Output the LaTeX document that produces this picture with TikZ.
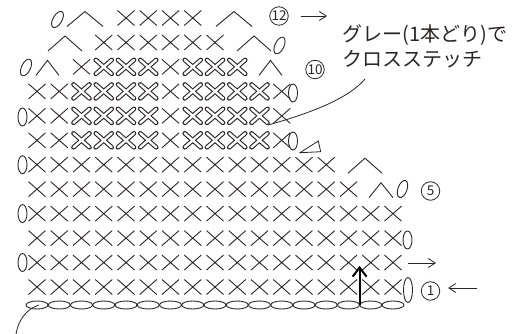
\documentclass[tikz,border=0pt]{standalone}
\usepackage{fontspec}
\newfontfamily\jpfont{Noto Sans CJK JP}
\usepackage{tikz}
\usetikzlibrary{arrows.meta}
\definecolor{ink}{HTML}{2B2523}

\begin{document}
\begin{tikzpicture}[x=1pt, y=-1pt, line width=0.9pt, color=ink,
    sc/.pic={\draw (-8.5pt,-7.5pt) -- (8.5pt,7.5pt) (-8.5pt,7.5pt) -- (8.5pt,-7.5pt);},
    xst/.pic={\draw[line width=4.6pt, line cap=round] (-8pt,-7pt) -- (8pt,7pt) (-8pt,7pt) -- (8pt,-7pt);
              \draw[line width=2.4pt, line cap=round, white] (-8pt,-7pt) -- (8pt,7pt) (-8pt,7pt) -- (8pt,-7pt);},
    pics/dec/.style={code={\draw ({-#1/2},8.5) -- (0,-6.5) -- ({#1/2},8.5);}},
    tch/.pic={\draw (0,0) ellipse [x radius=4.5pt, y radius=9pt];},
    fch/.pic={\draw (0,0) ellipse [x radius=11pt, y radius=4pt];},
    num/.style={circle, draw=ink, line width=0.8pt, inner sep=0pt, minimum size=18.5pt, text=ink,
                font=\jpfont\fontsize{13.5}{13.5}\selectfont},
    note/.style={anchor=base west, inner sep=0pt, text=ink, font=\jpfont\fontsize{20}{22}\selectfont},
    sarrow/.style={-{Straight Barb[length=7pt, width=9pt]}, line width=0.8pt}]
  \useasboundingbox (0,0) rectangle (524,334);

  % Foundation chain
  \foreach \c in {1,...,17}
    \pic at ({37+22.25*(\c-1)}, 305) {fch};
  \draw (408,290) ellipse [x radius=4.5pt, y radius=12.5pt];

  % Rows 1-6: single crochet
  \foreach \r in {1,...,4}
    \foreach \c in {1,...,17}
      \pic at ({37+22.25*(\c-1)}, {287-24.45*(\r-1)}) {sc};
  \foreach \c in {1,...,15}
    \pic at ({37+22.25*(\c-1)}, 189.2) {sc};
  \foreach \c in {1,...,14}
    \pic at ({37+22.25*(\c-1)}, 164.7) {sc};

  % Rows 7-10: cross stitch in grey
  \foreach \r in {7,8,9} {
    \foreach \c in {1,2,7,12}
      \pic at ({37+22.25*(\c-1)}, {287-24.45*(\r-1)}) {sc};
    \foreach \c in {3,4,5,6,8,9,10,11}
      \pic at ({37+22.25*(\c-1)}, {287-24.45*(\r-1)}) {xst};
  }
  \foreach \c in {3,7}
    \pic at ({37+22.25*(\c-1)}, 66.9) {sc};
  \foreach \c in {4,5,6,8,9,10}
    \pic at ({37+22.25*(\c-1)}, 66.9) {xst};

  % Rows 11-12
  \foreach \c in {4,...,9}
    \pic at ({37+22.25*(\c-1)}, 42.5) {sc};
  \foreach \c in {5,...,8}
    \pic at ({37+22.25*(\c-1)}, 18) {sc};

  % Decreases
  \pic at (381,189.2) {dec=24};
  \pic at (365,164.7) {dec=34};
  \pic at (47.5,66.9) {dec=23};
  \pic at (270.5,66.9) {dec=23};
  \pic at (65,42.5) {dec=34};
  \pic at (254,42.5) {dec=34};
  \pic at (85,18) {dec=36};
  \pic at (234,18) {dec=36};

  % Turning chains
  \pic at (22.5,262.5) {tch};
  \pic at (407.5,240) {tch};
  \pic at (22.5,213.6) {tch};
  \pic[rotate=-20] at (402.5,189) {tch};
  \pic at (22.5,164.7) {tch};
  \pic at (293,141) {tch};
  \pic at (22.5,117) {tch};
  \pic at (293,93) {tch};
  \pic[rotate=-25] at (26,67.5) {tch};
  \pic[rotate=-25] at (279.5,45.5) {tch};
  \pic[rotate=-30] at (57.5,19.5) {tch};

  % Attach yarn
  \draw[line width=0.8pt] (300,152.7) -- (318.3,141) -- (320.7,151.7) -- cycle;

  % Row numbers and directions
  \node[num] (n12) at (279,16) {12};
  \node[num] (n10) at (315,69.5) {10};
  \node[num] (n5) at (430.5,191) {5};
  \node[num] (n1) at (430.5,291) {1};
  \coordinate (a12) at (327,16);
  \draw[sarrow] ([xshift=12pt]n12.east) -- (a12);
  \coordinate (a2s) at (408,263);
  \coordinate (a2e) at (436,263);
  \draw[sarrow] (a2s) -- (a2e);
  \coordinate (a1) at (477,288);
  \draw[sarrow] (a1) -- ([xshift=8pt,yshift=3pt]n1.east);

  % Start of work
  \coordinate (bs) at (359.6,305);
  \coordinate (be) at (359.6,266);
  \draw[line width=2pt, black, -{Straight Barb[length=9pt, width=14pt]}] (bs) -- (be);

  % Labels
  \node[note] (note1) at (342,41.5) {グレー(1本どり)で};
  \node[note] (note2) at (342,66.5) {クロスステッチ};
  \coordinate (ld1) at (365,79);
  \coordinate (ld2) at (268,125);
  \draw[line width=0.8pt] (ld1) .. controls (350,97) and (315,112) .. (ld2);
  \coordinate (ch1) at (39,305);
  \coordinate (ch0) at (16,334);
  \draw[line width=0.8pt] (ch1) .. controls (26,309) and (18,321) .. (ch0);
\end{tikzpicture}
\end{document}
